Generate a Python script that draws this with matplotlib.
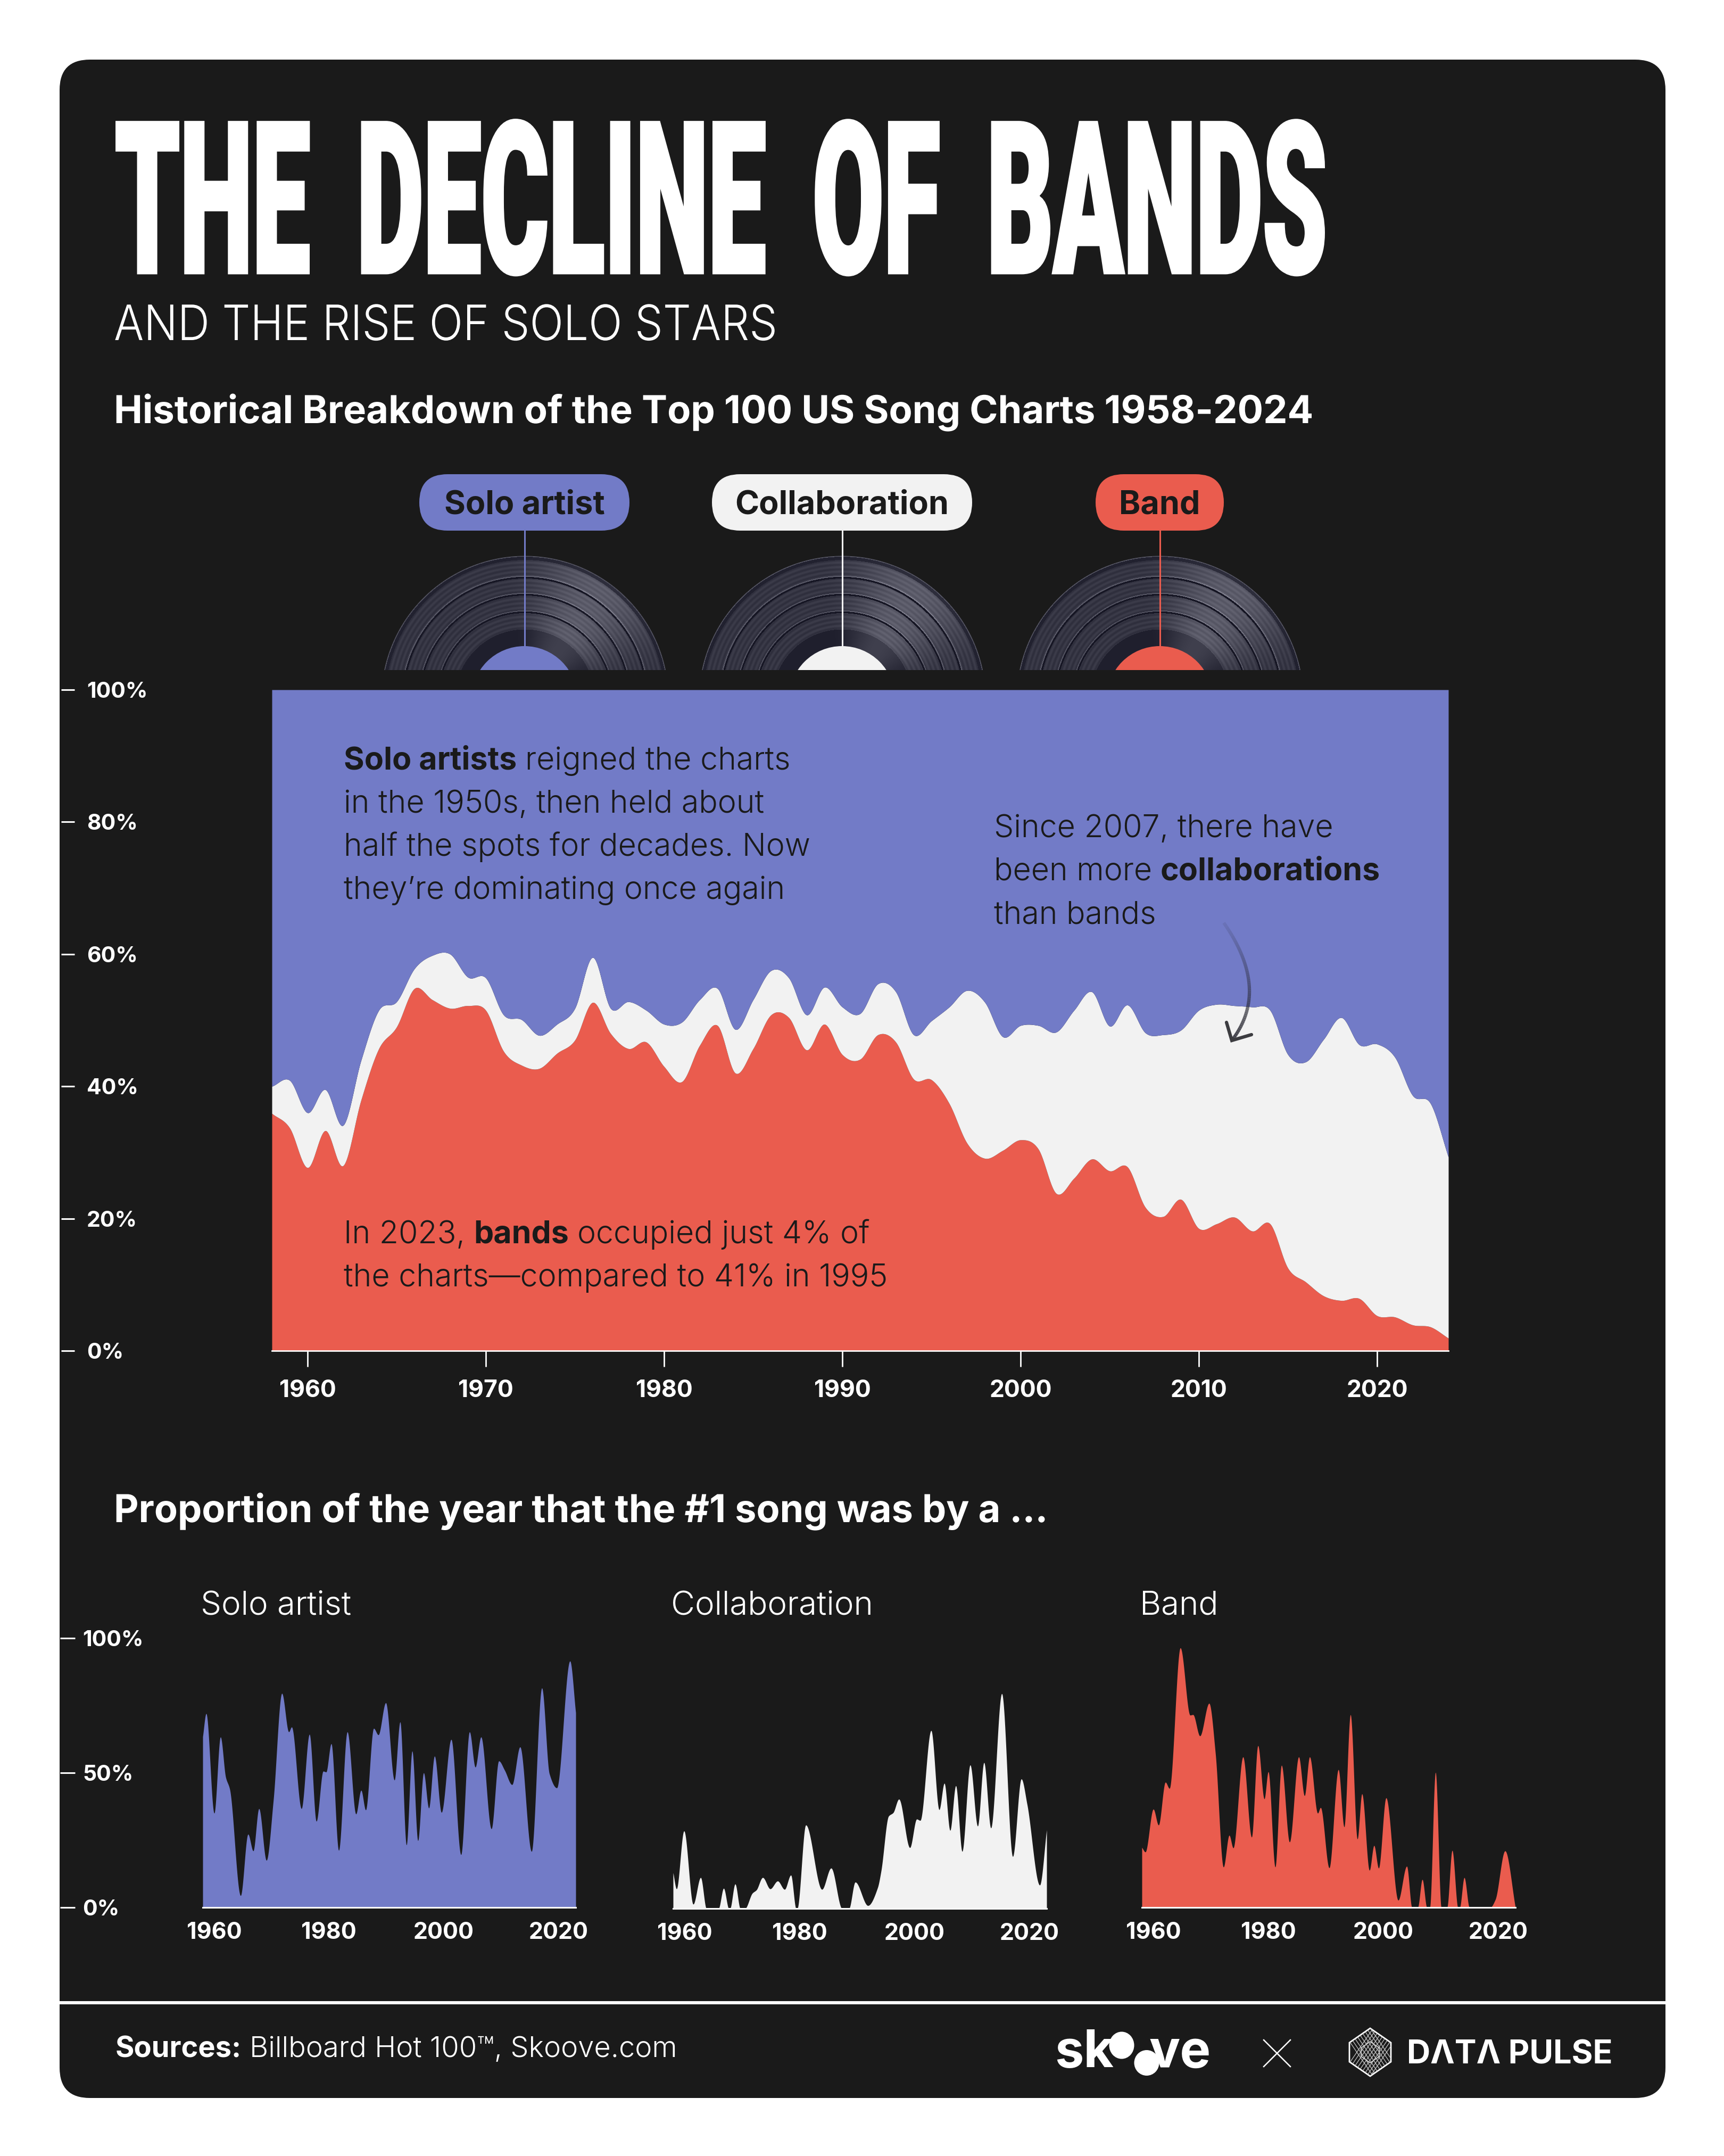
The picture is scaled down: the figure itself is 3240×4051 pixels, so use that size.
import numpy as np
import matplotlib
matplotlib.use("Agg")
from matplotlib import pyplot as plt
from matplotlib.collections import LineCollection
from matplotlib.patches import Circle, Ellipse, FancyBboxPatch, Polygon, Rectangle
from matplotlib.patheffects import AbstractPathEffect
from matplotlib.transforms import Affine2D

W, H = 3240, 4051
PT = 0.72  # one output pixel in points at dpi=100

BG = "#1a1a1a"
SOLO = "#727bc7"
COLLAB = "#f2f2f2"
BAND = "#ea5c4e"

plt.rcParams["font.family"] = ["Inter", "Roboto", "DejaVu Sans"]

# main chart: share of the Top 100 by year
years = list(range(1958, 2025))
band_share = [35.9, 33.7, 27.7, 33.3, 28.0, 37.9, 45.7, 49.0, 54.8, 53.1, 51.8, 52.2, 51.5, 45.3, 43.2, 42.7, 45.0,
              47.0, 52.7, 48.0, 45.7, 46.7, 43.0, 40.7, 46.2, 49.2, 42.0, 45.7, 50.8, 50.4, 45.5, 49.4, 44.8, 44.1,
              47.8, 46.7, 41.1, 41.0, 37.4, 31.4, 29.1, 30.3, 31.9, 30.5, 23.8, 26.1, 29.0, 27.2, 27.8, 21.7, 20.3,
              22.9, 18.5, 19.2, 20.2, 18.1, 19.2, 12.5, 10.4, 8.3, 7.6, 7.9, 5.3, 5.1, 3.9, 3.6, 1.9]
collab_share = [4.1, 7.2, 8.3, 6.2, 6.1, 6.0, 5.8, 3.8, 3.0, 6.7, 8.2, 4.3, 4.9, 5.5, 6.9, 5.0, 4.4,
                4.8, 6.8, 3.8, 7.1, 4.8, 6.4, 9.0, 6.9, 5.6, 6.6, 7.4, 6.7, 6.0, 5.3, 5.6, 7.2, 6.9,
                7.7, 7.6, 6.7, 8.9, 14.6, 23.1, 23.6, 17.2, 17.3, 18.7, 24.4, 25.4, 25.3, 21.9, 24.5, 26.4, 27.5,
                25.6, 33.0, 33.2, 32.0, 33.9, 32.3, 32.3, 33.3, 38.8, 42.8, 38.4, 41.1, 39.3, 34.7, 33.8, 27.4]

# small charts: turning points of each outline as (year, percent)
solo_years = [1958.0, 1958.6, 1960.0, 1961.1, 1962.0, 1962.7, 1964.6, 1965.9, 1966.8, 1967.8, 1969.1, 1970.3, 1971.8,
              1973.0, 1973.5, 1975.2, 1976.6, 1977.8, 1979.0, 1979.5, 1980.4, 1981.7, 1983.2, 1984.7, 1985.6, 1986.4,
              1987.8, 1988.6, 1989.9, 1991.4, 1992.4, 1993.5, 1994.5, 1995.5, 1996.5, 1997.4, 1998.4, 1999.6, 2001.3,
              2003.0, 2004.5, 2005.5, 2006.5, 2008.3, 2009.6, 2010.6, 2011.9, 2013.3, 2015.3, 2017.1, 2018.4, 2019.7,
              2022.0, 2023.0]
solo_pct = [63.4, 72.0, 35.0, 63.3, 48.4, 44.0, 4.4, 27.2, 21.0, 36.7, 17.5, 39.6, 79.5,
            65.2, 67.0, 36.7, 64.3, 32.0, 50.6, 50.3, 60.8, 21.2, 65.2, 34.7, 43.5, 36.2,
            66.5, 64.1, 76.0, 47.3, 68.9, 23.2, 58.1, 24.8, 50.0, 36.9, 56.2, 35.3, 62.4,
            19.6, 65.2, 52.1, 63.3, 29.2, 54.4, 51.0, 45.6, 59.6, 20.8, 81.5, 49.7, 44.4,
            91.5, 72.3]
collab_years = [1958.0, 1958.6, 1959.9, 1961.5, 1962.8, 1963.8, 1965.9, 1966.8, 1967.7, 1967.9, 1968.8, 1969.7, 1970.5,
                1971.8, 1972.5, 1973.6, 1974.9, 1976.2, 1977.4, 1978.5, 1979.4, 1979.6, 1981.1, 1983.9, 1985.5, 1987.4,
                1988.6, 1989.7, 1991.9, 1993.6, 1994.2, 1995.5, 1996.3, 1997.3, 1999.2, 2000.4, 2001.0, 2002.9, 2004.3,
                2005.2, 2006.2, 2007.2, 2008.3, 2009.7, 2011.0, 2012.1, 2013.3, 2015.2, 2017.1, 2018.6, 2019.6, 2021.8,
                2023.0]
collab_pct = [13.3, 7.3, 28.8, 1.6, 11.5, 0, 0, 7.5, 0, 0, 9.1, 0, 0,
              5.7, 6.9, 11.5, 7.3, 10.2, 7.1, 12.4, 0, 0, 31.0, 7.1, 15.0, 0,
              0, 9.8, 1.1, 7.8, 14.0, 34.3, 35.6, 40.6, 22.6, 33.2, 32.7, 66.1, 36.7,
              46.5, 29.0, 45.6, 21.2, 53.3, 30.6, 54.2, 29.9, 79.8, 19.3, 48.1, 38.7, 8.7,
              29.2]
band_years = [1958.0, 1958.6, 1960.0, 1960.9, 1962.1, 1962.8, 1964.7, 1966.4, 1966.9, 1968.1, 1969.7, 1970.8, 1972.2,
              1973.2, 1973.9, 1975.6, 1977.1, 1978.2, 1979.3, 1980.0, 1981.2, 1982.3, 1983.7, 1985.3, 1986.3, 1987.2,
              1988.6, 1989.1, 1990.6, 1992.2, 1993.2, 1994.3, 1995.5, 1996.3, 1997.6, 1998.4, 1999.2, 2000.5, 2002.6,
              2004.1, 2005.0, 2006.0, 2006.8, 2007.6, 2008.1, 2009.1, 2010.1, 2011.1, 2012.0, 2013.0, 2013.3, 2014.1,
              2015.0, 2018.6, 2019.5, 2021.2, 2023.0]
band_pct = [22.3, 20.6, 36.5, 30.6, 46.5, 44.2, 96.4, 71.4, 71.6, 63.7, 75.8, 57.2, 15.0,
            26.8, 22.1, 55.9, 26.1, 60.1, 40.3, 50.4, 15.0, 52.8, 24.3, 55.9, 41.5, 55.9,
            35.0, 37.1, 14.7, 51.2, 29.9, 71.6, 25.4, 42.2, 13.8, 23.0, 14.6, 40.7, 2.7,
            15.3, 0, 0, 10.4, 0, 0, 50.2, 0, 0, 21.2, 0, 0, 11.1,
            0, 0, 2.9, 21.0, 0]

main_xticks = [1960, 1970, 1980, 1990, 2000, 2010, 2020]
main_yticks = [0, 20, 40, 60, 80, 100]
small_xticks = [1960, 1980, 2000, 2020]
small_yticks = [0, 50, 100]

pills = [("Solo artist", 788, 1183, SOLO), ("Collaboration", 1338, 1827, COLLAB), ("Band", 2059, 2300, BAND)]


def smooth(x, y, xn, rounded=False):
    # cubic through the read values; rounded=False keeps zero stretches flat
    x, y = np.asarray(x, float), np.asarray(y, float)
    h = np.diff(x)
    d = np.diff(y) / h
    m = np.zeros_like(y)
    m[0], m[-1] = d[0], d[-1]
    for i in range(1, len(x) - 1):
        if rounded:
            m[i] = (y[i + 1] - y[i - 1]) / (x[i + 1] - x[i - 1])
        elif d[i - 1] * d[i] > 0:
            w1, w2 = 2 * h[i] + h[i - 1], h[i] + 2 * h[i - 1]
            m[i] = (w1 + w2) / (w1 / d[i - 1] + w2 / d[i])
    i = np.clip(np.searchsorted(x, xn) - 1, 0, len(h) - 1)
    t = (xn - x[i]) / h[i]
    return ((2 * t**3 - 3 * t**2 + 1) * y[i] + (t**3 - 2 * t**2 + t) * h[i] * m[i]
            + (-2 * t**3 + 3 * t**2) * y[i + 1] + (t**3 - t**2) * h[i] * m[i + 1])


class Stretch(AbstractPathEffect):
    # scale glyphs about the text origin, there is no condensed display face here
    def __init__(self, sx=1.0, sy=1.0, stroke=0.0):
        super().__init__()
        self.sx, self.sy, self.stroke = sx, sy, stroke

    def draw_path(self, renderer, gc, tpath, affine, rgbFace):
        ox, oy = affine.transform((0, 0))
        aff = affine + Affine2D().translate(-ox, -oy).scale(self.sx, self.sy).translate(ox, oy)
        gc2 = renderer.new_gc()
        gc2.copy_properties(gc)
        gc2.set_linewidth(self.stroke)
        if self.stroke:
            gc2.set_foreground(rgbFace)
            gc2.set_joinstyle("miter")
        renderer.draw_path(gc2, tpath, aff, rgbFace)
        gc2.restore()


fig = plt.figure(figsize=(W / 100, H / 100), dpi=100, facecolor="white")
renderer = fig.canvas.get_renderer()


def px_axes(x0, y0, x1, y1, **kw):
    return fig.add_axes([x0 / W, 1 - y1 / H, (x1 - x0) / W, (y1 - y0) / H], **kw)


bg = px_axes(0, 0, W, H, zorder=0)
over = px_axes(0, 0, W, H, zorder=5)
for a in (bg, over):
    a.set_axis_off()
    a.patch.set_visible(False)

bg.add_patch(FancyBboxPatch((112, 112), 3018, 3830, boxstyle="round,pad=0,rounding_size=57", fc=BG, ec="none"))
bg.add_patch(Rectangle((112, 3760), 3018, 6, fc="white", ec="none"))


def txt(x, y, s, size, weight="normal", color="white", ha="left", va="baseline", ax=over, **kw):
    return ax.text(x, y, s, fontsize=size, fontweight=weight, color=color, ha=ha, va=va, **kw)


def fit_text(x, baseline, s, width, cap, weight, family=None, stroke=0.0):
    t = txt(x, baseline, s, 50, weight, family=family) if family else txt(x, baseline, s, 50, weight)
    size = 50 * width / t.get_window_extent(renderer).width
    t.set_fontsize(size)
    # cap height is about 0.72 em
    t.set_path_effects([Stretch(1.0, cap / (0.72 * size / PT), stroke)])
    return t


def rich_line(x, y, parts, size, color=BG):
    gap = 0.27 * size / PT
    for s, bold in parts:
        t = txt(x, y, s, size, "bold" if bold else 300, color)
        x += t.get_window_extent(renderer).width + gap


for a in (bg, over):
    a.set_xlim(0, W)
    a.set_ylim(H, 0)

fit_text(216, 513, "THE \u2009DECLINE \u2009OF \u2009BANDS", 2278, 287, "black",
         family=["Roboto", "Liberation Sans", "DejaVu Sans"], stroke=3.5)
fit_text(214, 639, "AND THE RISE OF SOLO STARS", 1246, 66, 300)
fit_text(214, 795, "Historical Breakdown of the Top 100 US Song Charts 1958-2024", 2254, 52, "bold")
fit_text(214, 2860, "Proportion of the year that the #1 song was by a ...", 1756, 52, "bold")

# records under the legend pills
VCY, VR, CLIP = 1313.6, 269.6, 1259
for name, x0, x1, col in pills:
    cx = (x0 + x1) / 2
    xs = np.arange(cx - VR - 1, cx + VR + 1)
    ys = np.arange(VCY - VR - 1, CLIP)
    gx, gy = np.meshgrid(xs, ys)
    r = np.hypot(gx - cx, gy - VCY)
    ang = np.arctan2(gx - cx, VCY - gy)
    sheen = 0.22 + 0.78 * np.clip(np.cos(2 * (ang - 0.6)), 0, 1) ** 2 * (ang > -0.4)
    grey = 42 + 50 * sheen + 7 * np.sin(r * 2 * np.pi / 8.5)
    for sep in (163.6, 196.6, 228.6):
        grey = np.where(np.abs(r - sep) < 1.6, 22, grey)
        grey = np.where((r - sep > 1.6) & (r - sep < 3.6), grey + 30, grey)
    grey = np.where(r > 262, 30 + 16 * sheen, grey)
    grey = np.where(r > 268, 85, grey)
    grey = np.where(r < 131.6, 22 + 42 * sheen, grey)
    img = np.dstack([grey, grey, grey + 14, 255 * np.clip(VR - r + 0.5, 0, 1)]) / 255
    bg.imshow(np.clip(img, 0, 1), extent=(xs[0], xs[-1] + 1, CLIP, ys[0]), aspect="auto", interpolation="bilinear", zorder=2)
    label = bg.add_patch(Circle((cx, VCY), 99.6, fc=col, ec="none", zorder=3))
    label.set_clip_path(Rectangle((cx - VR, VCY - VR), 2 * VR, CLIP - VCY + VR, transform=bg.transData))
    bg.plot([cx, cx], [990, 1215], color=col, lw=2.2, zorder=4)
    bg.add_patch(FancyBboxPatch((x0, 891), x1 - x0, 106, boxstyle="round,pad=0,rounding_size=53", fc=col, ec="none", zorder=4))
    txt(cx, 966, name, 44, "bold", BG, ha="center")
bg.set_xlim(0, W)
bg.set_ylim(H, 0)

# main area chart
xs = np.linspace(1958, 2024, 1321)
band_line = smooth(years, band_share, xs, rounded=True)
top_line = smooth(years, np.add(band_share, collab_share), xs, rounded=True)

ax = px_axes(511, 1296, 2722, 2538, zorder=2)
ax.patch.set_visible(False)
ax.fill_between(xs, 0, band_line, color=BAND, lw=0)
ax.fill_between(xs, band_line, top_line, color=COLLAB, lw=0)
ax.fill_between(xs, top_line, 100, color=SOLO, lw=0)
ax.set_xlim(1958, 2024)
ax.set_ylim(0, 100)
for side in ("top", "right", "left"):
    ax.spines[side].set_visible(False)
ax.spines["bottom"].set_color("white")
ax.spines["bottom"].set_linewidth(2)
ax.spines["left"].set_position(("outward", 396 * PT))
ax.set_xticks(main_xticks)
ax.set_yticks(main_yticks, [f"{v}%" for v in main_yticks])
ax.tick_params(axis="x", colors="white", length=30 * PT, width=2, pad=24 * PT, labelsize=32)
ax.tick_params(axis="y", colors="white", direction="in", length=25 * PT, width=2.2, pad=-48 * PT, labelsize=29.5)
for lab in ax.get_xticklabels() + ax.get_yticklabels():
    lab.set_fontweight("bold")
for lab in ax.get_yticklabels():
    lab.set_ha("left")

# annotations
rich_line(646, 1446, [("Solo artists", True), ("reigned the charts", False)], 42.5)
rich_line(646, 1527, [("in the 1950s, then held about", False)], 42.5)
rich_line(646, 1608, [("half the spots for decades. Now", False)], 42.5)
rich_line(646, 1689, [("they\u2019re dominating once again", False)], 42.5)
rich_line(1868, 1573, [("Since 2007, there have", False)], 42.5)
rich_line(1868, 1654, [("been more", False), ("collaborations", True)], 42.5)
rich_line(1868, 1735, [("than bands", False)], 42.5)
rich_line(646, 2336, [("In 2023,", False), ("bands", True), ("occupied just 4% of", False)], 42.5)
rich_line(646, 2417, [("the charts\u2014compared to 41% in 1995", False)], 42.5)

# hand-drawn arrow, fades in from the text
t = np.linspace(0, 1, 60)[:, None]
p0, p1, p2 = np.array([2300, 1734]), np.array([2388, 1860]), np.array([2315, 1955])
curve = (1 - t) ** 2 * p0 + 2 * t * (1 - t) * p1 + t**2 * p2
segs = np.stack([curve[:-1], curve[1:]], axis=1)
fade = [(0.16, 0.16, 0.2, a) for a in np.linspace(0.1, 0.9, 59)]
over.add_collection(LineCollection(segs, colors=fade, linewidths=4.5))
over.plot([2305, 2315, 2352], [1921, 1955, 1944], color="#3c3c40", lw=4.5, solid_capstyle="round", solid_joinstyle="miter")

# small multiples
small = [
    ("Solo artist", 381, 1082, solo_years, solo_pct, SOLO, 3584),
    ("Collaboration", 1265, 1967, collab_years, collab_pct, COLLAB, 3586),
    ("Band", 2146, 2848, band_years, band_pct, BAND, 3584),
]
xs_small = np.linspace(1958, 2023, 1301)
for i, (name, x0, x1, yrs, vals, col, y0) in enumerate(small):
    sax = px_axes(x0, y0 - 506, x1, y0, zorder=2)
    sax.patch.set_visible(False)
    sax.fill_between(xs_small, 0, np.maximum(smooth(yrs, vals, xs_small), 0), color=col, lw=0)
    sax.set_xlim(1958, 2023)
    sax.set_ylim(0, 100)
    for side in ("top", "right", "left"):
        sax.spines[side].set_visible(False)
    sax.spines["bottom"].set_color("white")
    sax.spines["bottom"].set_linewidth(2.2)
    sax.set_xticks(small_xticks)
    sax.tick_params(axis="x", colors="white", length=0, pad=27 * PT, labelsize=31)
    for lab in sax.get_xticklabels():
        lab.set_fontweight("bold")
    if i == 0:
        sax.spines["left"].set_position(("outward", 268 * PT))
        sax.set_yticks(small_yticks, [f"{v}%" for v in small_yticks])
        sax.tick_params(axis="y", colors="white", direction="in", length=28 * PT, width=2.2, pad=-42 * PT, labelsize=29.5)
        for lab in sax.get_yticklabels():
            lab.set_fontweight("bold")
            lab.set_ha("left")
    else:
        sax.set_yticks([])
    txt(x0 - 4, 3033, name, 44.5, 300)

# footer
rich_line(217, 3865, [("Sources:", True), ("Billboard Hot 100\u2122, Skoove.com", False)], 39, "white")
txt(1982, 3884, "sk", 70, "bold")
txt(2276, 3884, "ve", 70, "bold", ha="right")
over.add_patch(Ellipse((2108, 3843), 47, 51, fc="white", ec="none"))
over.add_patch(Ellipse((2155, 3876), 47, 48, fc="white", ec="none"))
over.plot([2375, 2425], [3833, 3883], color="white", lw=1.8)
over.plot([2375, 2425], [3883, 3833], color="white", lw=1.8)
hexagon = over.add_patch(Polygon([(2575, 3811), (2614, 3838), (2614, 3874), (2575, 3901), (2536, 3874), (2536, 3838)],
                                 closed=True, fc=BG, ec="white", lw=2))
ribbon = LineCollection([[(2520 + k * 7, 3900), (2580 + k * 7, 3812)] for k in range(9)]
                        + [[(2520 + k * 7, 3812), (2580 + k * 7, 3900)] for k in range(9)],
                        colors="#c8c8c8", linewidths=0.9)
over.add_collection(ribbon)
ribbon.set_clip_path(hexagon)
over.add_patch(Polygon([(2575, 3836), (2592, 3848), (2592, 3864), (2575, 3876), (2558, 3864), (2558, 3848)],
                       closed=True, fc=BG, ec="white", lw=1))
txt(2644, 3878, "D\u039bT\u039b PULSE", 44, "bold")

fig.savefig("out.png", dpi=100)
